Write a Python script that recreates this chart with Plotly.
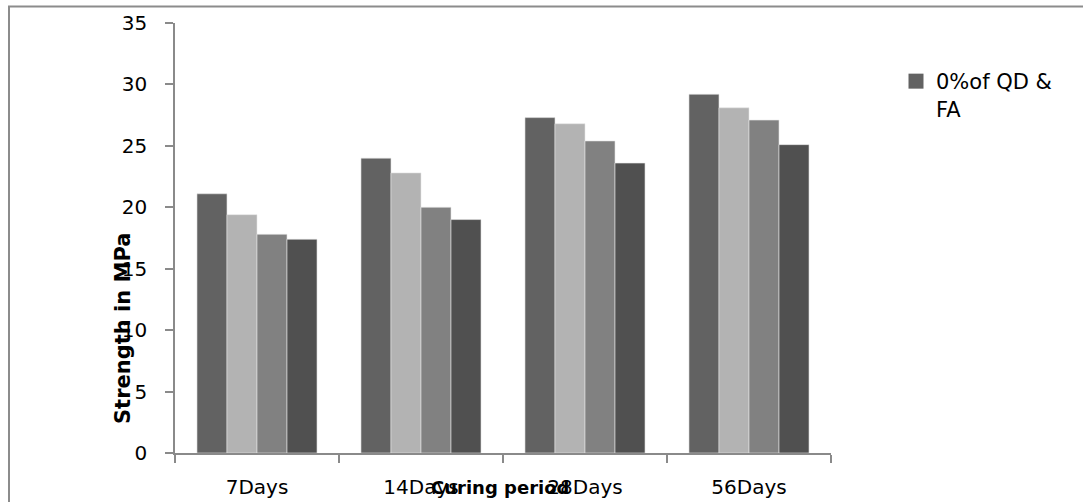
import plotly.graph_objects as go

# Compressive strength by curing period, four mixes
categories = ["7Days", "14Days", "28Days", "56Days"]
series_names = ["0%of QD &<br>FA", "Mix 2", "Mix 3", "Mix 4"]
mix_1 = [21.1, 24.0, 27.3, 29.2]
mix_2 = [19.4, 22.8, 26.8, 28.1]
mix_3 = [17.8, 20.0, 25.4, 27.1]
mix_4 = [17.4, 19.0, 23.6, 25.1]
y_ticks = [0, 5, 10, 15, 20, 25, 30, 35]

colors = ["#626262", "#b3b3b3", "#818181", "#505050"]
FONT = "'DejaVu Sans', sans-serif"
AXIS_GREY = "#8a8a8a"

# plot-area geometry in pixels
W, H = 1083, 502
L, R, T, B = 175, 831, 23, 453

fig = go.Figure()
for i, (name, vals) in enumerate(zip(series_names, [mix_1, mix_2, mix_3, mix_4])):
    fig.add_trace(go.Bar(
        x=categories, y=vals, name=name, legendgroup=f"s{i}",
        marker=dict(color=colors[i], line=dict(color="#e6e6e6", width=0.6)),
        showlegend=False,
    ))

# legend key for the first series, drawn as a larger square swatch
fig.add_trace(go.Scatter(
    x=[None], y=[None], mode="markers", name=series_names[0], legendgroup="s0",
    marker=dict(symbol="square", size=15, color=colors[0]),
    showlegend=True,
))


def px_x(p):
    return (p - L) / (R - L)


def px_y(p):
    return (B - p) / (B - T)


fig.update_layout(
    width=W, height=H,
    margin=dict(l=L, r=W - R, t=T, b=H - B, autoexpand=False),
    paper_bgcolor="white", plot_bgcolor="white",
    barmode="group", bargap=0.268, bargroupgap=0,
    font=dict(family=FONT, size=20, color="#000000"),
    legend=dict(
        x=px_x(896), y=px_y(61), xanchor="left", yanchor="top",
        font=dict(size=21), valign="top",
        itemwidth=30, bgcolor="rgba(0,0,0,0)",
    ),
    xaxis=dict(
        type="category", tickson="boundaries", automargin=False,
        showline=True, linecolor=AXIS_GREY, linewidth=1.5,
        ticks="outside", ticklen=8, tickcolor=AXIS_GREY, tickwidth=1.5,
        ticklabelstandoff=15, showgrid=False, zeroline=False,
        range=[-0.5, 3.5],
    ),
    yaxis=dict(
        range=[0, 35], tickvals=y_ticks, automargin=False,
        showline=True, linecolor=AXIS_GREY, linewidth=1.5,
        ticks="outside", ticklen=8, tickcolor=AXIS_GREY, tickwidth=1.5,
        ticklabelstandoff=14, showgrid=False, zeroline=False,
    ),
    annotations=[
        dict(text="<b>Strength in MPa</b>", textangle=-90,
             x=px_x(123), y=px_y(329), xref="paper", yref="paper",
             xanchor="center", yanchor="middle", showarrow=False,
             font=dict(size=21, family=FONT)),
        dict(text="<b>Curing period</b>",
             x=px_x(500), y=px_y(487), xref="paper", yref="paper",
             xanchor="center", yanchor="middle", showarrow=False,
             font=dict(size=18, family=FONT)),
    ],
    shapes=[
        dict(type="rect", xref="paper", yref="paper",
             x0=px_x(9), x1=px_x(1300), y0=px_y(700), y1=px_y(6.5),
             line=dict(color="#8c8c8c", width=2), fillcolor="rgba(0,0,0,0)",
             layer="below"),
    ],
)

fig.write_html("out.html")
